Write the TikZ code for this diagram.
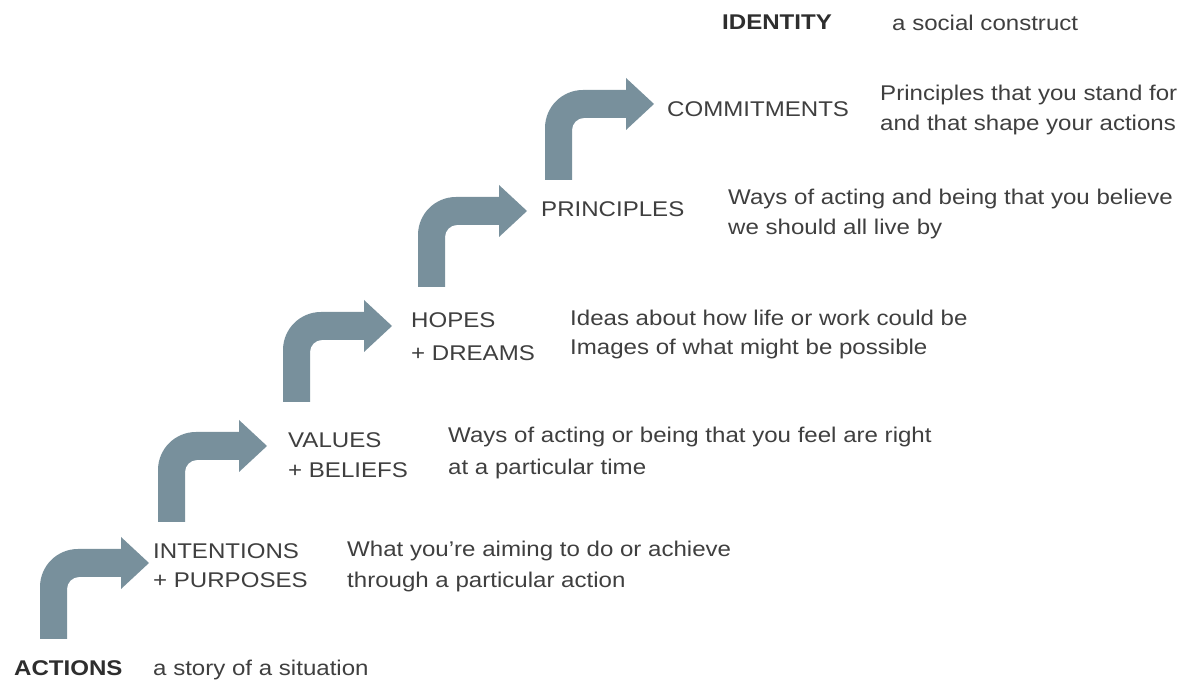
\documentclass[tikz,border=0pt]{standalone}
\usepackage{fontspec}
\setmainfont[FakeStretch=1.13]{Liberation Sans}
\definecolor{arrowfill}{HTML}{78909C}
\definecolor{inkgray}{HTML}{3F3F3F}
\definecolor{inkdark}{HTML}{2E2E2E}
\tikzset{
  % bent "up then right" arrow, origin at the bottom left of the stem
  bentarrow/.pic={
    \fill[arrowfill]
      (0,0) -- (0,52) arc[start angle=180, end angle=90, radius=38]
      -- (81,90) -- (81,102) -- (109,76) -- (81,50) -- (81,62)
      -- (39,62) arc[start angle=90, end angle=180, radius=12]
      -- (27,0) -- cycle;
  },
  label/.style={anchor=base west, inner sep=0pt, text=inkgray,
    font=\fontsize{21.3}{25}\selectfont},
  heading/.style={label, text=inkdark,
    font=\fontsize{21.3}{25}\selectfont\bfseries},
}
\begin{document}
\begin{tikzpicture}[x=1pt, y=1pt]
\useasboundingbox (0,0) rectangle (1180,682);
\fill[white] (0,0) rectangle (1180,682);

% staircase of arrows (y measured from the top edge)
\pic at (40,682-639) {bentarrow};
\pic at (158,682-522) {bentarrow};
\pic at (283,682-402) {bentarrow};
\pic at (418,682-287) {bentarrow};
\pic at (545,682-180) {bentarrow};

% bottom and top of the ladder
\node[heading] (actions) at (14,682-676) {ACTIONS};
\node[label] (actionsd) at (153,682-676) {a story of a situation};
\node[heading] (identity) at (722,682-30) {IDENTITY};
\node[label] (identityd) at (892,682-31) {a social construct};

% intentions
\node[label] (int1) at (153,682-559) {INTENTIONS};
\node[label] (int2) at (153,682-588) {+ PURPOSES};
\node[label] (intd1) at (347,682-557) {What you’re aiming to do or achieve};
\node[label] (intd2) at (347,682-588) {through a particular action};

% values
\node[label] (val1) at (288,682-448) {VALUES};
\node[label] (val2) at (288,682-478) {+ BELIEFS};
\node[label] (vald1) at (448,682-443) {Ways of acting or being that you feel are right};
\node[label] (vald2) at (448,682-475) {at a particular time};

% hopes
\node[label] (hop1) at (411,682-328) {HOPES};
\node[label] (hop2) at (411,682-361) {+ DREAMS};
\node[label] (hopd1) at (570,682-326) {Ideas about how life or work could be};
\node[label] (hopd2) at (570,682-355) {Images of what might be possible};

% principles
\node[label] (pri) at (541,682-217) {PRINCIPLES};
\node[label] (prid1) at (728,682-205) {Ways of acting and being that you believe};
\node[label] (prid2) at (728,682-235) {we should all live by};

% commitments
\node[label] (com) at (667,682-117) {COMMITMENTS};
\node[label] (comd1) at (880,682-101) {Principles that you stand for};
\node[label] (comd2) at (880,682-131) {and that shape your actions};
\end{tikzpicture}
\end{document}
